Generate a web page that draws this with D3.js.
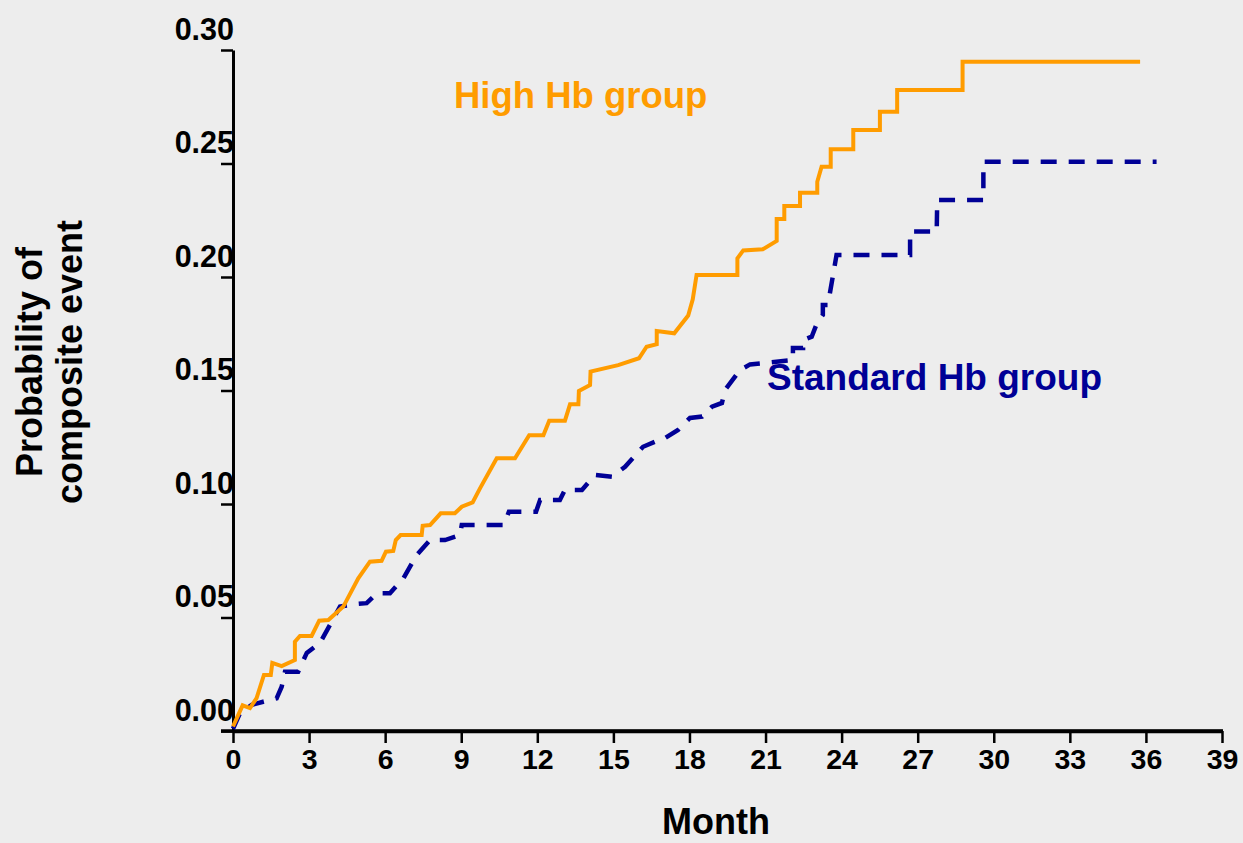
<!DOCTYPE html>
<html>
<head>
<meta charset="utf-8">
<script src="https://cdn.jsdelivr.net/npm/d3@7/dist/d3.min.js"></script>
<style>
  html, body { margin: 0; padding: 0; background: #ededed; }
  svg { display: block; }
  text { font-family: "Liberation Sans", Arial, sans-serif; font-weight: bold; }
</style>
</head>
<body>
<svg id="chart" width="1243" height="843"></svg>
<script>
// Cumulative probability of the composite event, by month
const highHbMonths = [0, 0.38, 0.67, 0.93, 1.22, 1.49, 1.55, 1.92, 2.44, 2.44, 2.64, 3.10, 3.40, 3.76, 4.35, 4.94, 5.40, 5.86, 6.03, 6.32, 6.42, 6.61, 7.44, 7.48, 7.77, 8.19, 8.75, 9.02, 9.45, 9.74, 10.40, 11.12, 11.68, 12.24, 12.47, 13.09, 13.29, 13.62, 13.64, 14.08, 14.10, 15.19, 16.01, 16.31, 16.71, 16.71, 17.40, 17.95, 18.13, 18.28, 19.89, 19.89, 20.12, 20.89, 21.44, 21.44, 21.74, 21.74, 22.36, 22.36, 23.04, 23.04, 23.21, 23.57, 23.57, 24.46, 24.46, 25.51, 25.51, 26.19, 26.19, 28.77, 28.77, 35.77];
const highHbProb = [0.002, 0.0113, 0.0101, 0.0145, 0.0247, 0.0247, 0.0300, 0.0286, 0.0313, 0.0393, 0.0419, 0.0419, 0.0486, 0.0489, 0.0548, 0.0673, 0.0746, 0.0750, 0.0790, 0.0793, 0.0841, 0.0863, 0.0863, 0.0904, 0.0907, 0.0959, 0.0959, 0.0988, 0.1007, 0.1069, 0.1201, 0.1201, 0.1303, 0.1303, 0.1367, 0.1367, 0.1439, 0.1439, 0.1498, 0.1524, 0.1583, 0.1612, 0.1642, 0.1693, 0.1704, 0.1762, 0.1752, 0.1830, 0.1902, 0.2009, 0.2009, 0.2082, 0.2117, 0.2122, 0.2159, 0.2256, 0.2256, 0.2313, 0.2313, 0.2371, 0.2371, 0.2420, 0.2486, 0.2486, 0.2563, 0.2563, 0.2648, 0.2648, 0.2728, 0.2728, 0.2824, 0.2824, 0.2948, 0.2948];

const stdHbMonths = [0, 0.28, 0.74, 1.19, 1.72, 1.92, 2.05, 2.57, 2.91, 3.43, 4.22, 4.74, 5.27, 5.67, 6.19, 6.72, 7.24, 7.77, 8.36, 8.95, 9.02, 10.13, 10.68, 10.88, 11.95, 12.11, 12.89, 13.09, 13.76, 14.27, 14.94, 15.46, 16.17, 16.64, 16.92, 17.55, 18.02, 18.50, 18.89, 19.28, 19.40, 19.99, 20.39, 22.08, 22.08, 22.48, 22.48, 22.82, 23.03, 23.26, 23.26, 23.46, 23.54, 23.80, 26.70, 26.70, 27.75, 27.77, 29.59, 29.59, 36.42];
const stdHbProb = [0.001, 0.0079, 0.0115, 0.0129, 0.0144, 0.0195, 0.0261, 0.0261, 0.0344, 0.0388, 0.0548, 0.0558, 0.0563, 0.0607, 0.0607, 0.0673, 0.0775, 0.0841, 0.0841, 0.0863, 0.0907, 0.0907, 0.0907, 0.0966, 0.0966, 0.1018, 0.1018, 0.1062, 0.1062, 0.1128, 0.1120, 0.1164, 0.1252, 0.1274, 0.1282, 0.1326, 0.1379, 0.1385, 0.1429, 0.1445, 0.1502, 0.1590, 0.1615, 0.1634, 0.1687, 0.1687, 0.1722, 0.1737, 0.1797, 0.1833, 0.1877, 0.1877, 0.1930, 0.2097, 0.2097, 0.2200, 0.2200, 0.2339, 0.2339, 0.2508, 0.2508];

const monthTicks = [0, 3, 6, 9, 12, 15, 18, 21, 24, 27, 30, 33, 36, 39];
const probTicks = [0.00, 0.05, 0.10, 0.15, 0.20, 0.25, 0.30];

const highColor = "#ff9c00";
const stdColor = "#000096";

const svg = d3.select("#chart");

const x = d3.scaleLinear().domain([0, 39]).range([233, 1222]);
const y = d3.scaleLinear().domain([0, 0.30]).range([731, 50]);

// axes
const xAxis = svg.append("g")
  .attr("transform", `translate(0,${y(0)})`)
  .call(d3.axisBottom(x).tickValues(monthTicks).tickSize(12).tickSizeOuter(0).tickFormat(d3.format("d")));
xAxis.select(".domain").attr("stroke", "#000").attr("stroke-width", 3.5);
xAxis.selectAll(".tick line").attr("stroke", "#000").attr("stroke-width", 2.5);
xAxis.selectAll(".tick text")
  .attr("y", 38).attr("dy", null)
  .attr("font-size", 28.5).attr("font-family", "Liberation Sans, Arial, sans-serif")
  .attr("font-weight", "bold").attr("fill", "#000");

const yAxis = svg.append("g")
  .attr("transform", `translate(${x(0)},0)`)
  .call(d3.axisLeft(y).tickValues(probTicks).tickSize(12).tickSizeOuter(0).tickFormat(d3.format(".2f")));
yAxis.select(".domain").attr("stroke", "#000").attr("stroke-width", 3);
yAxis.selectAll(".tick line").attr("stroke", "#000").attr("stroke-width", 2.5);
yAxis.selectAll(".tick text")
  .attr("x", 1).attr("y", -11).attr("dy", null)
  .attr("font-size", 30.5).attr("font-family", "Liberation Sans, Arial, sans-serif")
  .attr("font-weight", "bold").attr("fill", "#000");

// x-axis line runs a little past the y-axis on the left
svg.append("line")
  .attr("x1", x(0) - 12).attr("x2", x(39) + 1)
  .attr("y1", y(0)).attr("y2", y(0))
  .attr("stroke", "#000").attr("stroke-width", 3.5);

// curves
const line = d3.line().x(d => x(d[0])).y(d => y(d[1])).curve(d3.curveLinear);
const highData = highHbMonths.map((m, i) => [m, highHbProb[i]]);
const stdData = stdHbMonths.map((m, i) => [m, stdHbProb[i]]);

svg.append("path")
  .datum(stdData)
  .attr("d", line)
  .attr("fill", "none")
  .attr("stroke", stdColor)
  .attr("stroke-width", 4.5)
  .attr("stroke-dasharray", "16 12")
  .attr("stroke-linejoin", "miter");

svg.append("path")
  .datum(highData)
  .attr("d", line)
  .attr("fill", "none")
  .attr("stroke", highColor)
  .attr("stroke-width", 4)
  .attr("stroke-linejoin", "miter");

// series labels
svg.append("text")
  .attr("x", 454).attr("y", 108)
  .attr("font-size", 36.5).attr("fill", highColor)
  .text("High Hb group");

svg.append("text")
  .attr("x", 767).attr("y", 390)
  .attr("font-size", 37).attr("fill", stdColor)
  .text("Standard Hb group");

// axis titles
svg.append("text")
  .attr("x", 716).attr("y", 834)
  .attr("text-anchor", "middle")
  .attr("font-size", 36).attr("fill", "#000")
  .text("Month");

const yTitle = svg.append("text")
  .attr("transform", "translate(0,362) rotate(-90)")
  .attr("text-anchor", "middle")
  .attr("font-size", 36).attr("fill", "#000");
yTitle.append("tspan").attr("x", 0).attr("y", 42).text("Probability of");
yTitle.append("tspan").attr("x", 0).attr("y", 82).text("composite event");
</script>
</body>
</html>
